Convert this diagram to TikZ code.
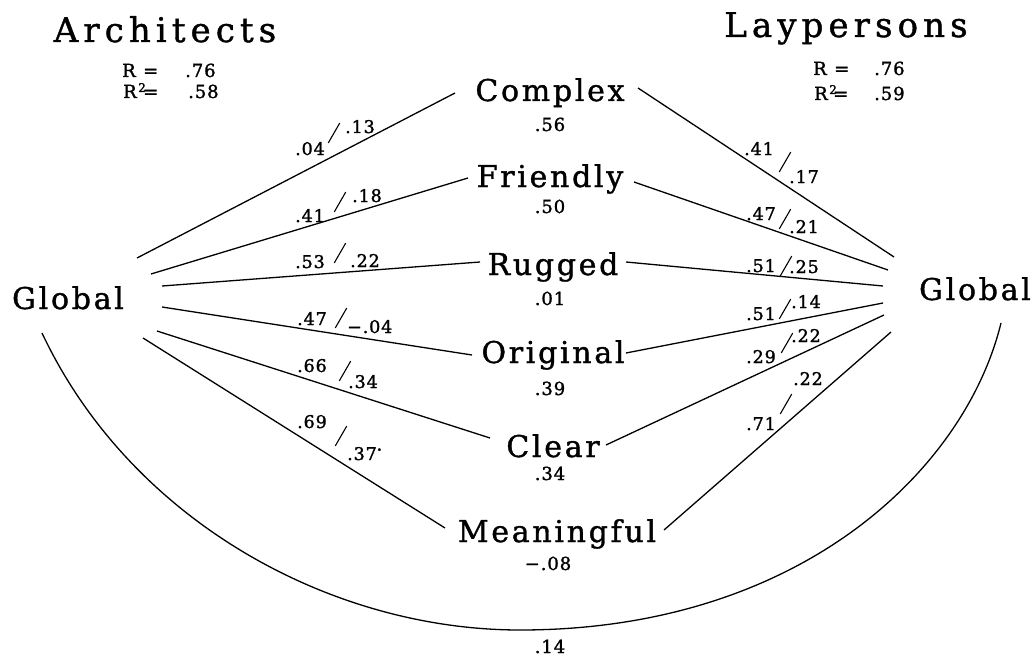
\documentclass[tikz,border=0pt]{standalone}
\usepackage{fontspec}
\usepackage{graphicx}
\setmainfont{DejaVu Serif}
\newfontfamily\spacedfont[LetterSpace=15,FakeBold=1.2]{DejaVu Serif}
\newfontfamily\termfont[LetterSpace=9,FakeBold=1.2]{DejaVu Serif}
\newfontfamily\numfont[LetterSpace=5,FakeBold=1.5]{DejaVu Serif}
\tikzset{
  x=1pt, y=-1pt,
  head/.style={font=\spacedfont\fontsize{34}{40}\selectfont, anchor=base, inner sep=0},
  term/.style={font=\termfont\fontsize{30}{36}\selectfont, anchor=base, inner sep=0},
  num/.style={font=\numfont\fontsize{18}{22}\selectfont, anchor=base, inner sep=0},
  stat/.style={font=\numfont\fontsize{18}{22}\selectfont, anchor=base west, inner sep=0},
  lab/.style={font=\numfont\fontsize{17.5}{21}\selectfont, anchor=base west, inner sep=0},
  slashmark/.style={fill=black, draw=none, inner sep=0, minimum width=23pt, minimum height=1.1pt, rotate=#1},
  slashmark/.default=60,
  link/.style={line width=1.3pt}
}
\newcommand{\rsq}{R\hspace{1.5pt}\raisebox{6pt}{\fontsize{12}{12}\selectfont 2}}
\begin{document}
\begin{tikzpicture}
\useasboundingbox (0,0) rectangle (1036,658);

% group headings and fit statistics
\node[head] (arch) at (165,42) {Architects};
\node[head] (lay)  at (846,37) {Laypersons};
\node[stat] (ar)  at (122,77)  {\makebox[21pt][l]{R}\makebox[42pt][l]{=}.76};
\node[stat] (ar2) at (123,98)  {\makebox[20pt][l]{\rsq}\makebox[45pt][l]{=}.58};
\node[stat] (lr)  at (813,75)  {\makebox[21pt][l]{R}\makebox[40pt][l]{=}.76};
\node[stat] (lr2) at (814,100) {\makebox[19pt][l]{\rsq}\makebox[41pt][l]{=}.59};

% outcome nodes
\node[term] (gl) at (68,309)  {Global};
\node[term] (gr) at (975,300) {Global};

% attribute nodes with their values
\node[term] (cx) at (550,101) {Complex};
\node[term] (fr) at (550,187) {Friendly};
\node[term] (ru) at (553,275) {Rugged};
\node[term] (or) at (553,363) {Original};
\node[term] (cl) at (553,457) {Clear};
\node[term] (me) at (557,542) {Meaningful};
\node[num] (vcx) at (550,131) {.56};
\node[num] (vfr) at (550,213) {.50};
\node[num] (vru) at (550,305) {.01};
\node[num] (vor) at (550,395) {.39};
\node[num] (vcl) at (550,480) {.34};
\node[num] (vme) at (548,570) {−.08};
\node[num] (vgg) at (550,653) {.14};

% architects' paths
\draw[link] ([shift={(69,-51)}]gl.base) -- ([shift={(-95,-8)}]cx.base);
\draw[link] ([shift={(83,-35)}]gl.base) -- ([shift={(-82,-9)}]fr.base);
\draw[link] ([shift={(94,-23)}]gl.base) -- ([shift={(-73,-13)}]ru.base);
\draw[link] ([shift={(94,-2)}]gl.base)  -- ([shift={(-81,-8)}]or.base);
\draw[link] ([shift={(89,22)}]gl.base)  -- ([shift={(-63,-19)}]cl.base);
\draw[link] ([shift={(75,29)}]gl.base)  -- ([shift={(-112,-14)}]me.base);

% laypersons' paths
\draw[link] ([shift={(88,-13)}]cx.base) -- ([shift={(-81,-43)}]gr.base);
\draw[link] ([shift={(84,-5)}]fr.base)  -- ([shift={(-87,-30)}]gr.base);
\draw[link] ([shift={(73,-13)}]ru.base) -- ([shift={(-92,-14)}]gr.base);
\draw[link] ([shift={(73,-10)}]or.base) -- ([shift={(-92,3)}]gr.base);
\draw[link] ([shift={(53,-12)}]cl.base) -- ([shift={(-91,15)}]gr.base);
\draw[link] ([shift={(107,-12)}]me.base) -- ([shift={(-84,32)}]gr.base);

% direct path between the two global ratings
\draw[link] ([shift={(-26,24)}]gl.base)
  .. controls (130,520) and (330,630) .. (520,630)
  .. controls (800,630) and (965,470) .. ([shift={(26,23)}]gr.base);

% path coefficients, architects
\node[lab] (a1) at (295,155) {.04};
\node[slashmark] (s1) at (334,133) {};
\node[lab] (b1) at (345,133) {.13};
\node[lab] (a2) at (295,222) {.41};
\node[slashmark] (s2) at (340,202) {};
\node[lab] (b2) at (352,202) {.18};
\node[lab] (a3) at (295,268) {.53};
\node[slashmark] (s3) at (340,253) {};
\node[lab] (b3) at (350,267) {.22};
\node[lab] (a4) at (297,325) {.47};
\node[slashmark] (s4) at (341,318) {};
\node[lab] (b4) at (347,333) {−.04};
\node[lab] (a5) at (297,372) {.66};
\node[slashmark] (s5) at (345,371) {};
\node[lab] (b5) at (348,388) {.34};
\node[lab] (a6) at (297,428) {.69};
\node[slashmark] (s6) at (341,436) {};
\node[lab] (b6) at (347,460) {.37\raisebox{7pt}{\fontsize{9}{9}\selectfont•}};

% path coefficients, laypersons
\node[lab] (c1) at (744,155) {.41};
\node[slashmark] (t1) at (785,162) {};
\node[lab] (d1) at (789,183) {.17};
\node[lab] (c2) at (746,220) {.47};
\node[slashmark] (t2) at (785,219) {};
\node[lab] (d2) at (789,233) {.21};
\node[lab] (c3) at (746,272) {.51};
\node[slashmark] (t3) at (786,266) {};
\node[lab] (d3) at (789,273) {.25};
\node[lab] (c4) at (746,320) {.51};
\node[slashmark] (t4) at (785,309) {};
\node[lab] (d4) at (791,308) {.14};
\node[lab] (c5) at (746,363) {.29};
\node[slashmark] (t5) at (787,343) {};
\node[lab] (d5) at (791,342) {.22};
\node[lab] (c6) at (746,430) {.71};
\node[slashmark] (t6) at (786,404) {};
\node[lab] (d6) at (793,385) {.22};
\end{tikzpicture}
\end{document}
